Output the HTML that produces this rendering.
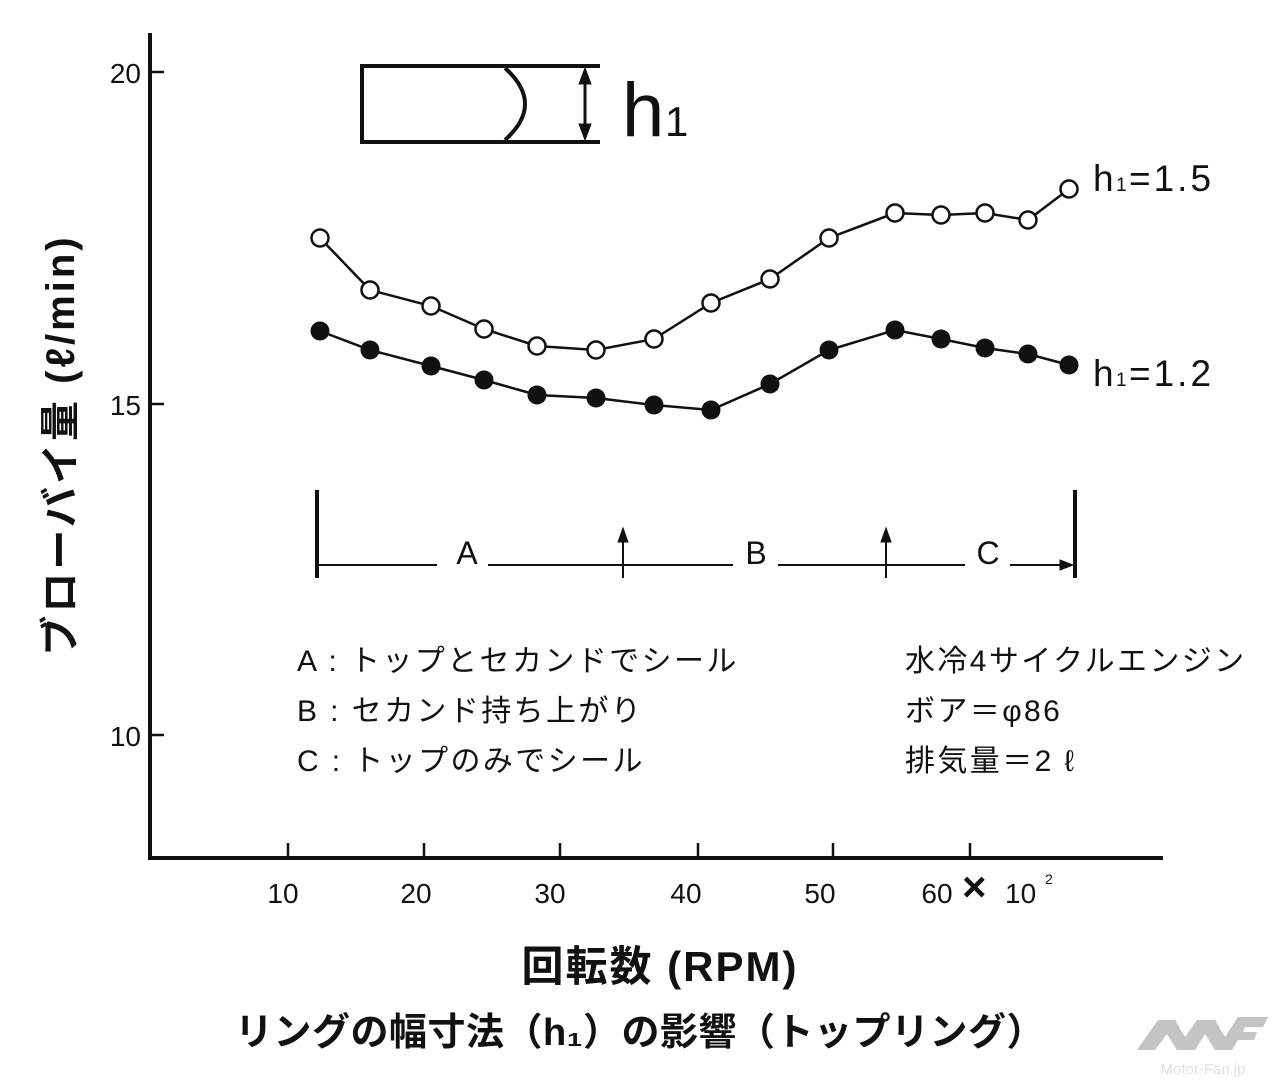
<!DOCTYPE html>
<html><head><meta charset="utf-8"><style>
body{margin:0;background:#fff}
svg{display:block}
text{font-family:"Liberation Sans","Noto Sans CJK JP",sans-serif;fill:#111}
</style></head><body>
<svg width="1279" height="1087" viewBox="0 0 1279 1087">
<g stroke="#111" fill="none">
<line x1="150" y1="33" x2="150" y2="860" stroke-width="4"/>
<line x1="148" y1="858" x2="1163" y2="858" stroke-width="4"/>
<g stroke-width="2.5">
<line x1="150" y1="72" x2="164" y2="72"/><line x1="150" y1="404" x2="164" y2="404"/><line x1="150" y1="735" x2="164" y2="735"/>
<line x1="288" y1="858" x2="288" y2="843"/><line x1="424" y1="858" x2="424" y2="843"/><line x1="560" y1="858" x2="560" y2="843"/><line x1="698" y1="858" x2="698" y2="843"/><line x1="833" y1="858" x2="833" y2="843"/><line x1="970" y1="858" x2="970" y2="843"/>
</g>
<path d="M600 66 H362 V142 H600" stroke-width="4"/>
<path d="M505 68 Q545 104 505 140" stroke-width="4"/>
<line x1="585" y1="80" x2="585" y2="128" stroke-width="3"/>
<path d="M579 84 L585 68 L591 84 Z M579 124 L585 140 L591 124 Z" fill="#111"/>
<line x1="317" y1="490" x2="317" y2="578" stroke-width="4"/>
<line x1="1075" y1="490" x2="1075" y2="578" stroke-width="4"/>
<g stroke-width="2">
<line x1="317" y1="565" x2="437" y2="565"/><line x1="488" y1="565" x2="733" y2="565"/><line x1="778" y1="565" x2="965" y2="565"/><line x1="1010" y1="565" x2="1062" y2="565"/>
<line x1="623" y1="578" x2="623" y2="540"/><line x1="886" y1="578" x2="886" y2="540"/>
</g>
<path d="M618 542 L623 528 L628 542 Z M881 542 L886 528 L891 542 Z M1060 560 L1073 565 L1060 570 Z" fill="#111"/>
<polyline stroke-width="2.5" points="320,238 370,290 431,306 484,329 537,346 596,350 654,339 711,303 770,279 829,238 895,213 941,215 985,213 1028,220 1069,189"/>
<polyline stroke-width="2.5" points="320,331 370,350 431,366 484,380 537,395 596,398 654,405 711,410 770,384 829,350 895,330 941,339 985,348 1028,354 1069,365"/>
</g>
<g fill="#fff" stroke="#111" stroke-width="2.5">
<circle cx="320" cy="238" r="8.5"/><circle cx="370" cy="290" r="8.5"/><circle cx="431" cy="306" r="8.5"/><circle cx="484" cy="329" r="8.5"/><circle cx="537" cy="346" r="8.5"/><circle cx="596" cy="350" r="8.5"/><circle cx="654" cy="339" r="8.5"/><circle cx="711" cy="303" r="8.5"/><circle cx="770" cy="279" r="8.5"/><circle cx="829" cy="238" r="8.5"/><circle cx="895" cy="213" r="8.5"/><circle cx="941" cy="215" r="8.5"/><circle cx="985" cy="213" r="8.5"/><circle cx="1028" cy="220" r="8.5"/><circle cx="1069" cy="189" r="8.5"/>
</g>
<g fill="#111">
<circle cx="320" cy="331" r="9.5"/><circle cx="370" cy="350" r="9.5"/><circle cx="431" cy="366" r="9.5"/><circle cx="484" cy="380" r="9.5"/><circle cx="537" cy="395" r="9.5"/><circle cx="596" cy="398" r="9.5"/><circle cx="654" cy="405" r="9.5"/><circle cx="711" cy="410" r="9.5"/><circle cx="770" cy="384" r="9.5"/><circle cx="829" cy="350" r="9.5"/><circle cx="895" cy="330" r="9.5"/><circle cx="941" cy="339" r="9.5"/><circle cx="985" cy="348" r="9.5"/><circle cx="1028" cy="354" r="9.5"/><circle cx="1069" cy="365" r="9.5"/>
</g>
<g font-size="28" text-anchor="end">
<text x="141" y="83">20</text><text x="141" y="415">15</text><text x="141" y="746">10</text>
</g>
<g font-size="28" text-anchor="middle">
<text x="283" y="903">10</text><text x="416" y="903">20</text><text x="550" y="903">30</text><text x="686" y="903">40</text><text x="820" y="903">50</text><text x="937" y="903">60</text>
</g>
<text x="962" y="901" font-size="42" font-weight="bold">×</text>
<text x="1005" y="903" font-size="28">10</text><text x="1045" y="884" font-size="14">2</text>
<text x="622" y="136" font-size="76">h</text><text x="665" y="136" font-size="42">1</text>
<text x="1093" y="191" font-size="37" letter-spacing="1">h</text><text x="1116" y="191" font-size="19">1</text><text x="1129" y="191" font-size="37" letter-spacing="3">=1.5</text>
<text x="1093" y="386" font-size="37" letter-spacing="1">h</text><text x="1116" y="386" font-size="19">1</text><text x="1129" y="386" font-size="37" letter-spacing="3">=1.2</text>
<g font-size="32" text-anchor="middle"><text x="467" y="564">A</text><text x="756" y="564">B</text><text x="988" y="564">C</text></g>
<g font-size="30" letter-spacing="2.4">
<text x="297" y="671">A : トップとセカンドでシール</text>
<text x="297" y="721">B : セカンド持ち上がり</text>
<text x="297" y="771">C : トップのみでシール</text>
<text x="905" y="671">水冷4サイクルエンジン</text>
<text x="905" y="721">ボア＝φ86</text>
<text x="905" y="771">排気量＝2 ℓ</text>
</g>
<text transform="translate(74,445) rotate(-90)" font-size="40" font-weight="bold" letter-spacing="3" text-anchor="middle">ブローバイ量 (ℓ/min)</text>
<text x="660" y="981" font-size="42" font-weight="bold" letter-spacing="2" text-anchor="middle">回転数 (RPM)</text>
<text x="640" y="1045" font-size="38" font-weight="bold" letter-spacing="0.5" text-anchor="middle">リングの幅寸法（h₁）の影響（トップリング）</text>
<path d="M1137 1050 L1158 1020 L1175 1020 L1185 1037 L1197 1020 L1215 1020 L1225 1037 L1238 1017 L1268 1017 L1263 1027 L1245 1027 L1243 1032 L1257 1032 L1254 1040 L1238 1040 L1232 1050 L1215 1050 L1205 1034 L1195 1050 L1177 1050 L1167 1034 L1155 1050 Z" fill="#c4c4c4"/>
<text x="1203" y="1074" font-size="15" text-anchor="middle" style="fill:#e0e0e0">Motor-Fan.jp</text>
</svg>
</body></html>
